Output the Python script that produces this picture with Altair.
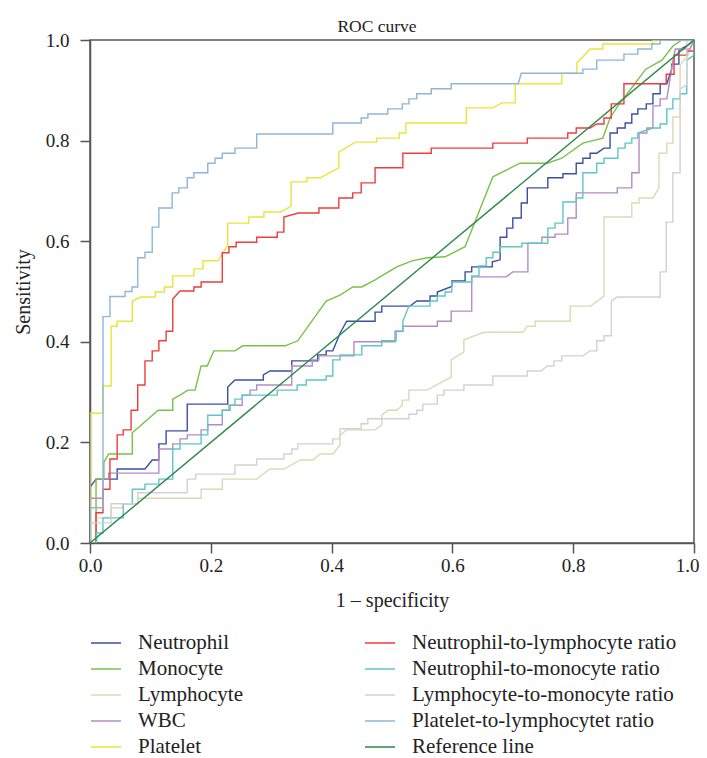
import altair as alt
import pandas as pd

FONT = "Liberation Serif"

names = ["Neutrophil", "Monocyte", "Lymphocyte", "WBC", "Platelet",
         "Neutrophil-to-lymphocyte ratio", "Neutrophil-to-monocyte ratio",
         "Lymphocyte-to-monocyte ratio", "Platelet-to-lymphocytet ratio", "Reference line"]
colors = ["#3b50a3", "#79c146", "#dcd9b5", "#b38cc6", "#e9e53a",
          "#f03c3c", "#5ec6c8", "#d2d2d2", "#8fb5da", "#2b8a4b"]

neutrophil_x = [0, 0, 0.01, 0.045, 0.045, 0.091, 0.103, 0.114, 0.114, 0.126, 0.126, 0.161, 0.161, 0.228, 0.228, 0.240, 0.287, 0.287, 0.298, 0.334, 0.334, 0.377, 0.377, 0.391, 0.391, 0.402, 0.414, 0.425, 0.472, 0.472, 0.483, 0.483, 0.530, 0.541, 0.563, 0.563, 0.575, 0.575, 0.599, 0.599, 0.621, 0.621, 0.632, 0.632, 0.666, 0.666, 0.679, 0.679, 0.690, 0.690, 0.700, 0.700, 0.714, 0.714, 0.724, 0.724, 0.758, 0.758, 0.783, 0.783, 0.805, 0.805, 0.816, 0.816, 0.828, 0.828, 0.839, 0.851, 0.861, 0.861, 0.873, 0.873, 0.886, 0.886, 0.897, 0.897, 0.907, 0.907, 0.921, 0.921, 0.932, 0.932, 0.944, 0.944, 0.955, 0.963, 0.963, 0.975, 0.975, 0.99, 1]
neutrophil_y = [0, 0.111, 0.127, 0.127, 0.147, 0.147, 0.165, 0.165, 0.197, 0.197, 0.223, 0.223, 0.276, 0.276, 0.310, 0.324, 0.324, 0.334, 0.342, 0.342, 0.362, 0.362, 0.374, 0.374, 0.382, 0.382, 0.417, 0.441, 0.441, 0.459, 0.459, 0.471, 0.471, 0.481, 0.481, 0.491, 0.491, 0.499, 0.510, 0.521, 0.521, 0.539, 0.539, 0.549, 0.549, 0.559, 0.563, 0.608, 0.608, 0.626, 0.626, 0.646, 0.646, 0.676, 0.676, 0.706, 0.706, 0.726, 0.726, 0.734, 0.734, 0.755, 0.755, 0.765, 0.765, 0.775, 0.775, 0.785, 0.785, 0.815, 0.815, 0.825, 0.825, 0.835, 0.835, 0.853, 0.853, 0.863, 0.863, 0.873, 0.873, 0.893, 0.893, 0.913, 0.913, 0.942, 0.952, 0.952, 0.980, 0.99, 1]

monocyte_x = [0, 0.01, 0.01, 0.023, 0.023, 0.031, 0.070, 0.070, 0.113, 0.137, 0.137, 0.149, 0.162, 0.174, 0.184, 0.194, 0.205, 0.240, 0.253, 0.323, 0.344, 0.391, 0.414, 0.435, 0.450, 0.472, 0.480, 0.508, 0.533, 0.558, 0.588, 0.621, 0.667, 0.712, 0.757, 0.781, 0.816, 0.849, 0.861, 0.874, 0.897, 0.920, 0.947, 0.965, 0.980, 1]
monocyte_y = [0, 0, 0.127, 0.127, 0.161, 0.177, 0.177, 0.219, 0.264, 0.264, 0.286, 0.294, 0.304, 0.304, 0.352, 0.352, 0.382, 0.382, 0.392, 0.392, 0.402, 0.481, 0.493, 0.509, 0.509, 0.523, 0.529, 0.549, 0.561, 0.567, 0.569, 0.589, 0.728, 0.755, 0.755, 0.765, 0.795, 0.805, 0.845, 0.869, 0.905, 0.942, 0.960, 0.988, 1.0, 1]

lymphocyte_x = [0, 0, 0.011, 0.011, 0.035, 0.035, 0.055, 0.055, 0.079, 0.079, 0.184, 0.184, 0.219, 0.219, 0.276, 0.298, 0.321, 0.348, 0.369, 0.381, 0.402, 0.414, 0.414, 0.425, 0.472, 0.483, 0.483, 0.493, 0.508, 0.517, 0.517, 0.528, 0.528, 0.558, 0.598, 0.598, 0.619, 0.619, 0.652, 0.717, 0.724, 0.737, 0.737, 0.795, 0.795, 0.829, 0.851, 0.851, 0.897, 0.897, 0.909, 0.909, 0.932, 0.942, 0.942, 0.955, 0.955, 0.965, 0.965, 0.977, 0.977, 0.99, 1]
lymphocyte_y = [0, 0.04, 0.04, 0.05, 0.05, 0.07, 0.07, 0.078, 0.078, 0.089, 0.089, 0.107, 0.107, 0.127, 0.127, 0.147, 0.147, 0.165, 0.165, 0.177, 0.177, 0.195, 0.215, 0.225, 0.225, 0.235, 0.254, 0.264, 0.264, 0.274, 0.284, 0.284, 0.304, 0.304, 0.330, 0.364, 0.380, 0.404, 0.419, 0.419, 0.431, 0.431, 0.441, 0.441, 0.471, 0.471, 0.491, 0.648, 0.648, 0.676, 0.676, 0.686, 0.686, 0.706, 0.775, 0.775, 0.795, 0.795, 0.847, 0.847, 0.95, 0.97, 1]

wbc_x = [0, 0, 0.0215, 0.0215, 0.031, 0.031, 0.114, 0.114, 0.137, 0.137, 0.149, 0.149, 0.161, 0.161, 0.184, 0.184, 0.195, 0.195, 0.219, 0.219, 0.232, 0.232, 0.252, 0.252, 0.265, 0.265, 0.276, 0.276, 0.334, 0.334, 0.368, 0.368, 0.379, 0.379, 0.437, 0.437, 0.505, 0.505, 0.518, 0.518, 0.575, 0.575, 0.598, 0.598, 0.632, 0.632, 0.689, 0.700, 0.725, 0.725, 0.748, 0.748, 0.770, 0.770, 0.791, 0.791, 0.805, 0.805, 0.873, 0.873, 0.897, 0.897, 0.909, 0.909, 0.922, 0.922, 0.932, 0.932, 0.944, 0.944, 0.955, 0.965, 0.969, 0.993, 1]
wbc_y = [0, 0.089, 0.089, 0.127, 0.127, 0.139, 0.139, 0.187, 0.187, 0.197, 0.197, 0.207, 0.207, 0.215, 0.215, 0.225, 0.225, 0.235, 0.235, 0.264, 0.264, 0.274, 0.274, 0.294, 0.294, 0.304, 0.304, 0.314, 0.314, 0.352, 0.352, 0.364, 0.364, 0.372, 0.372, 0.400, 0.400, 0.421, 0.421, 0.431, 0.431, 0.441, 0.441, 0.461, 0.461, 0.529, 0.529, 0.539, 0.539, 0.596, 0.596, 0.608, 0.608, 0.614, 0.614, 0.646, 0.646, 0.696, 0.696, 0.706, 0.706, 0.736, 0.736, 0.815, 0.815, 0.825, 0.825, 0.869, 0.869, 0.883, 0.883, 0.958, 0.982, 0.982, 1]

platelet_x = [0, 0, 0.0215, 0.0215, 0.035, 0.035, 0.045, 0.045, 0.070, 0.070, 0.084, 0.108, 0.108, 0.123, 0.123, 0.137, 0.137, 0.172, 0.172, 0.187, 0.187, 0.212, 0.228, 0.228, 0.263, 0.263, 0.288, 0.288, 0.316, 0.333, 0.333, 0.359, 0.359, 0.381, 0.412, 0.412, 0.439, 0.475, 0.475, 0.512, 0.512, 0.523, 0.523, 0.623, 0.623, 0.667, 0.682, 0.704, 0.704, 0.781, 0.781, 0.806, 0.806, 0.828, 0.849, 0.849, 0.932, 0.932, 1]
platelet_y = [0, 0.258, 0.258, 0.312, 0.312, 0.431, 0.431, 0.441, 0.441, 0.481, 0.489, 0.489, 0.499, 0.499, 0.509, 0.509, 0.531, 0.531, 0.545, 0.545, 0.561, 0.561, 0.592, 0.636, 0.636, 0.648, 0.648, 0.658, 0.658, 0.670, 0.718, 0.718, 0.726, 0.726, 0.746, 0.777, 0.797, 0.797, 0.805, 0.805, 0.815, 0.815, 0.835, 0.835, 0.865, 0.865, 0.875, 0.875, 0.913, 0.913, 0.934, 0.934, 0.954, 0.982, 0.982, 0.992, 0.992, 1.0, 1]

nlr_x = [0, 0.01, 0.01, 0.0215, 0.0215, 0.033, 0.033, 0.045, 0.045, 0.055, 0.055, 0.068, 0.068, 0.079, 0.079, 0.091, 0.091, 0.103, 0.103, 0.114, 0.114, 0.126, 0.126, 0.137, 0.137, 0.149, 0.172, 0.172, 0.184, 0.184, 0.219, 0.219, 0.230, 0.230, 0.242, 0.242, 0.276, 0.276, 0.310, 0.310, 0.321, 0.321, 0.345, 0.379, 0.379, 0.412, 0.412, 0.435, 0.435, 0.449, 0.449, 0.472, 0.472, 0.518, 0.518, 0.565, 0.565, 0.667, 0.667, 0.724, 0.724, 0.791, 0.791, 0.805, 0.805, 0.828, 0.839, 0.851, 0.851, 0.863, 0.863, 0.884, 0.884, 0.954, 0.954, 0.967, 0.967, 0.988, 0.988, 1, 1]
nlr_y = [0, 0, 0.060, 0.060, 0.107, 0.107, 0.167, 0.167, 0.215, 0.215, 0.225, 0.225, 0.264, 0.264, 0.314, 0.314, 0.362, 0.362, 0.382, 0.382, 0.402, 0.402, 0.421, 0.421, 0.485, 0.501, 0.501, 0.509, 0.509, 0.519, 0.519, 0.577, 0.577, 0.589, 0.589, 0.598, 0.598, 0.608, 0.608, 0.618, 0.618, 0.648, 0.656, 0.656, 0.666, 0.666, 0.686, 0.686, 0.696, 0.696, 0.716, 0.716, 0.746, 0.746, 0.775, 0.775, 0.785, 0.785, 0.795, 0.795, 0.805, 0.805, 0.815, 0.815, 0.825, 0.825, 0.833, 0.833, 0.845, 0.845, 0.873, 0.873, 0.913, 0.913, 0.932, 0.932, 0.970, 0.970, 0.978, 0.978, 1]

nmr_x = [0, 0.011, 0.011, 0.0215, 0.0215, 0.055, 0.055, 0.070, 0.070, 0.091, 0.091, 0.114, 0.114, 0.137, 0.137, 0.149, 0.149, 0.184, 0.184, 0.195, 0.195, 0.219, 0.219, 0.230, 0.230, 0.240, 0.240, 0.252, 0.252, 0.310, 0.310, 0.343, 0.343, 0.358, 0.358, 0.391, 0.391, 0.402, 0.402, 0.414, 0.414, 0.450, 0.450, 0.483, 0.483, 0.507, 0.507, 0.518, 0.518, 0.528, 0.563, 0.563, 0.575, 0.575, 0.588, 0.588, 0.599, 0.599, 0.632, 0.632, 0.644, 0.644, 0.656, 0.656, 0.667, 0.667, 0.679, 0.679, 0.715, 0.715, 0.758, 0.758, 0.770, 0.770, 0.783, 0.783, 0.805, 0.805, 0.816, 0.816, 0.839, 0.839, 0.851, 0.851, 0.874, 0.874, 0.886, 0.886, 0.897, 0.897, 0.907, 0.907, 0.932, 0.944, 0.944, 0.955, 0.955, 0.965, 0.965, 0.977, 0.977, 0.988, 0.988, 1, 1]
nmr_y = [0, 0, 0.02, 0.02, 0.050, 0.050, 0.078, 0.078, 0.107, 0.107, 0.117, 0.117, 0.127, 0.127, 0.187, 0.187, 0.197, 0.197, 0.215, 0.215, 0.254, 0.254, 0.264, 0.264, 0.274, 0.274, 0.286, 0.286, 0.294, 0.294, 0.304, 0.304, 0.314, 0.314, 0.324, 0.324, 0.332, 0.332, 0.364, 0.364, 0.374, 0.374, 0.392, 0.392, 0.402, 0.402, 0.421, 0.421, 0.441, 0.471, 0.471, 0.481, 0.481, 0.491, 0.491, 0.499, 0.499, 0.519, 0.519, 0.531, 0.531, 0.551, 0.551, 0.567, 0.567, 0.578, 0.578, 0.589, 0.589, 0.596, 0.596, 0.626, 0.626, 0.636, 0.636, 0.678, 0.678, 0.686, 0.686, 0.736, 0.736, 0.755, 0.755, 0.765, 0.765, 0.785, 0.785, 0.795, 0.795, 0.805, 0.805, 0.815, 0.825, 0.825, 0.833, 0.833, 0.863, 0.863, 0.883, 0.883, 0.893, 0.893, 0.96, 0.97, 1]

lmr_x = [0, 0, 0.035, 0.035, 0.079, 0.079, 0.161, 0.161, 0.175, 0.175, 0.240, 0.240, 0.276, 0.276, 0.321, 0.321, 0.334, 0.334, 0.344, 0.344, 0.402, 0.402, 0.414, 0.414, 0.449, 0.449, 0.460, 0.460, 0.528, 0.528, 0.541, 0.541, 0.551, 0.551, 0.575, 0.575, 0.586, 0.586, 0.619, 0.619, 0.667, 0.667, 0.724, 0.724, 0.747, 0.757, 0.768, 0.768, 0.781, 0.781, 0.816, 0.828, 0.839, 0.839, 0.851, 0.851, 0.863, 0.863, 0.873, 0.944, 0.944, 0.954, 0.954, 0.965, 0.965, 0.977, 0.977, 0.988, 0.988, 1]
lmr_y = [0, 0.04, 0.04, 0.078, 0.078, 0.10, 0.10, 0.127, 0.127, 0.137, 0.137, 0.155, 0.155, 0.167, 0.167, 0.177, 0.177, 0.187, 0.187, 0.197, 0.197, 0.207, 0.207, 0.227, 0.227, 0.237, 0.237, 0.247, 0.247, 0.256, 0.256, 0.264, 0.264, 0.276, 0.276, 0.294, 0.294, 0.304, 0.304, 0.314, 0.314, 0.332, 0.332, 0.342, 0.342, 0.352, 0.352, 0.362, 0.362, 0.372, 0.372, 0.382, 0.382, 0.402, 0.402, 0.412, 0.412, 0.481, 0.489, 0.489, 0.539, 0.539, 0.638, 0.638, 0.736, 0.736, 0.903, 0.911, 1.0, 1]

plr_x = [0, 0, 0.0215, 0.0215, 0.033, 0.033, 0.058, 0.058, 0.0695, 0.0695, 0.079, 0.079, 0.091, 0.091, 0.103, 0.103, 0.114, 0.114, 0.136, 0.136, 0.147, 0.147, 0.161, 0.161, 0.172, 0.172, 0.195, 0.195, 0.207, 0.207, 0.219, 0.219, 0.240, 0.240, 0.276, 0.276, 0.402, 0.402, 0.449, 0.449, 0.460, 0.460, 0.493, 0.493, 0.517, 0.517, 0.528, 0.528, 0.541, 0.541, 0.565, 0.565, 0.598, 0.598, 0.709, 0.714, 0.816, 0.816, 0.839, 0.839, 0.884, 0.884, 0.907, 0.907, 0.930, 0.930, 0.944, 0.944, 1]
plr_y = [0, 0.07, 0.07, 0.45, 0.45, 0.49, 0.49, 0.50, 0.50, 0.509, 0.509, 0.567, 0.567, 0.578, 0.578, 0.628, 0.628, 0.666, 0.666, 0.696, 0.696, 0.706, 0.706, 0.726, 0.726, 0.736, 0.736, 0.755, 0.755, 0.765, 0.765, 0.775, 0.775, 0.785, 0.785, 0.813, 0.813, 0.835, 0.835, 0.845, 0.845, 0.853, 0.853, 0.863, 0.863, 0.873, 0.873, 0.883, 0.883, 0.893, 0.893, 0.903, 0.903, 0.913, 0.913, 0.934, 0.934, 0.942, 0.942, 0.960, 0.960, 0.972, 0.972, 0.982, 0.982, 0.992, 0.992, 1.0, 1]

reference_x = [0, 1]
reference_y = [0, 1]

series_x = [neutrophil_x, monocyte_x, lymphocyte_x, wbc_x, platelet_x,
            nlr_x, nmr_x, lmr_x, plr_x, reference_x]
series_y = [neutrophil_y, monocyte_y, lymphocyte_y, wbc_y, platelet_y,
            nlr_y, nmr_y, lmr_y, plr_y, reference_y]

rows = []
for name, xs, ys in zip(names, series_x, series_y):
    for i, (a, b) in enumerate(zip(xs, ys)):
        rows.append({"series": name, "idx": i, "x": a, "y": b})
df = pd.DataFrame(rows)

ticks = [0, 0.2, 0.4, 0.6, 0.8, 1.0]
axis_common = dict(values=ticks, format=".1f", grid=False, labelFont=FONT, labelFontSize=19,
                   labelColor="#222222", titleFont=FONT, titleFontSize=20, titleFontWeight="normal",
                   titleColor="#222222", domainColor="#555555", domainWidth=1.5, tickColor="#555555",
                   tickWidth=1.5, tickSize=10, labelFlush=False)

chart = alt.Chart(df).mark_line(strokeWidth=1.4, clip=True).encode(
    x=alt.X("x:Q", scale=alt.Scale(domain=[0, 1], nice=False),
            axis=alt.Axis(title="1 – specificity", titlePadding=15, labelPadding=3,
                          labelOffset={"condition": {"test": "datum.value == 1", "value": -7}, "value": 0},
                          **axis_common)),
    y=alt.Y("y:Q", scale=alt.Scale(domain=[0, 1], nice=False),
            axis=alt.Axis(title="Sensitivity", titlePadding=12, labelPadding=11, **axis_common)),
    color=alt.Color("series:N", scale=alt.Scale(domain=names, range=colors),
                    legend=alt.Legend(title=None, orient="none", legendX=0, legendY=587,
                                      columns=2, columnPadding=119, rowPadding=0,
                                      symbolType="stroke", symbolSize=900, symbolStrokeWidth=1.5,
                                      labelFont=FONT, labelFontSize=21, labelColor="#222222",
                                      labelOffset=16, labelLimit=400)),
    order=alt.Order("idx:Q"),
    detail="series:N",
).properties(
    width=604, height=503,
    title=alt.TitleParams("ROC curve", font=FONT, fontSize=17.5, fontWeight="normal",
                          color="#222222", offset=-4, dx=-15),
    padding={"left": 82, "top": 32, "right": 5, "bottom": 215},
    autosize=alt.AutoSizeParams(type="none"),
).configure_view(stroke="#555555", strokeWidth=1.5)

chart.save("out.html", embed_options={"renderer": "svg", "actions": False})
